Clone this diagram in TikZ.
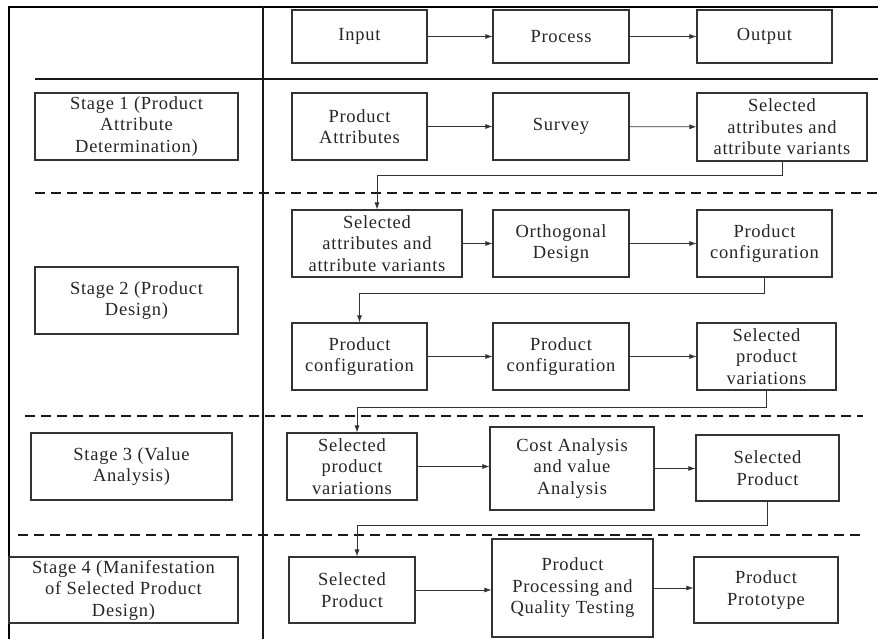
\documentclass[tikz,border=0pt]{standalone}
\usepackage{fontspec}
\setmainfont[LetterSpace=4]{Liberation Serif}
\usepackage{tikz}
\usetikzlibrary{arrows.meta}

\tikzset{
  box/.style={draw=black!80, line width=1.1pt, align=center, inner sep=1pt,
    text=black!85, font=\fontsize{18.5}{21.5}\selectfont},
  flow/.style={-{Latex[length=7pt,width=5pt]}, line width=0.8pt, draw=black!80},
  sep/.style={line width=2pt, draw=black!90},
  dsep/.style={line width=2pt, draw=black!90, dash pattern=on 10pt off 6pt}
}

\begin{document}
\begin{tikzpicture}[x=1pt,y=-1pt]
  \useasboundingbox (0,0) rectangle (883,639);
  \draw[line width=1.3pt] (9,639) -- (9,7) -- (878,7);   % frame, left and top
  \draw[sep] (263,7) -- (263,639);                       % vertical divider
  \draw[sep] (35,79) -- (878,79);                        % under the header row
  \draw[dsep] (35,193) -- (877,193);                     % stage 1 / stage 2
  \draw[dsep] (25,416) -- (863,416);                     % stage 2 / stage 3
  \draw[dsep] (18,535) -- (860,535);                     % stage 3 / stage 4

  % header row
  \node[box, minimum width=135, minimum height=53] (inp) at (359.5,36.5) {Input};
  \node[box, minimum width=136, minimum height=53] (proc) at (561,36.5) {Process};
  \node[box, minimum width=135, minimum height=53] (outp) at (764.5,36.5) {Output};
  \draw[flow] (inp) -- (proc);
  \draw[flow] (proc) -- (outp);

  % stage 1
  \node[box, minimum width=203, minimum height=67] (stA) at (136.5,126.5) {Stage 1 (Product\\Attribute\\Determination)};
  \node[box, minimum width=135, minimum height=67] (pattr) at (359.5,126.5) {Product\\Attributes};
  \node[box, minimum width=136, minimum height=67] (survey) at (561,126.5) {Survey};
  \node[box, minimum width=170, minimum height=68] (selattr) at (782,127) {Selected\\attributes and\\attribute variants};
  \draw[flow] (pattr) -- (survey);
  \draw[flow] (survey) -- (selattr);

  % stage 2
  \node[box, minimum width=203, minimum height=67] (stB) at (136.5,300.5) {Stage 2 (Product\\Design)};
  \node[box, minimum width=170, minimum height=67] (selattrb) at (377,243.5) {Selected\\attributes and\\attribute variants};
  \node[box, minimum width=136, minimum height=67] (orth) at (561,243.5) {Orthogonal\\Design};
  \node[box, minimum width=135, minimum height=67] (pconf) at (764.5,243.5) {Product\\configuration};
  \node[box, minimum width=135, minimum height=67] (pconfb) at (359.5,356.5) {Product\\configuration};
  \node[box, minimum width=136, minimum height=67] (pconfc) at (561,356.5) {Product\\configuration};
  \node[box, minimum width=139, minimum height=67] (selvar) at (766.5,356.5) {Selected\\product\\variations};
  \draw[flow] (selattr.south) -- ++(0,14) -| (selattrb.north);
  \draw[flow] (selattrb) -- (orth);
  \draw[flow] (orth) -- (pconf);
  \draw[flow] (pconf.south) -- ++(0,16) -| (pconfb.north);
  \draw[flow] (pconfb) -- (pconfc);
  \draw[flow] (pconfc) -- (selvar);

  % stage 3
  \node[box, minimum width=201, minimum height=67] (stC) at (131.5,466.5) {Stage 3 (Value\\Analysis)};
  \node[box, minimum width=130, minimum height=67] (selvarb) at (352,466.5) {Selected\\product\\variations};
  \node[box, minimum width=164, minimum height=83] (cost) at (572,468.5) {Cost Analysis\\and value\\Analysis};
  \node[box, minimum width=143, minimum height=66] (selprod) at (767.5,468) {Selected\\Product};
  \draw[flow] (selvar.south) -- ++(0,17) -| ([xshift=5]selvarb.north);
  \draw[flow] (selvarb.east) -- (selvarb.east -| cost.west);
  \draw[flow] (cost.east) -- (cost.east -| selprod.west);

  % stage 4
  \node[box, minimum width=229, minimum height=66] (stD) at (123.5,590) {Stage 4 (Manifestation\\of Selected Product\\Design)};
  \node[box, minimum width=126, minimum height=66] (selprodb) at (352,590) {Selected\\Product};
  \node[box, minimum width=161, minimum height=98] (procq) at (572.5,588) {Product\\Processing and\\Quality Testing};
  \node[box, minimum width=144, minimum height=66] (proto) at (766,590) {Product\\Prototype};
  \draw[flow] (selprod.south) -- ++(0,24) -| ([xshift=5]selprodb.north);
  \draw[flow] (selprodb.east) -- (selprodb.east -| procq.west);
  \draw[flow] (procq.east) -- (procq.east -| proto.west);
\end{tikzpicture}
\end{document}
